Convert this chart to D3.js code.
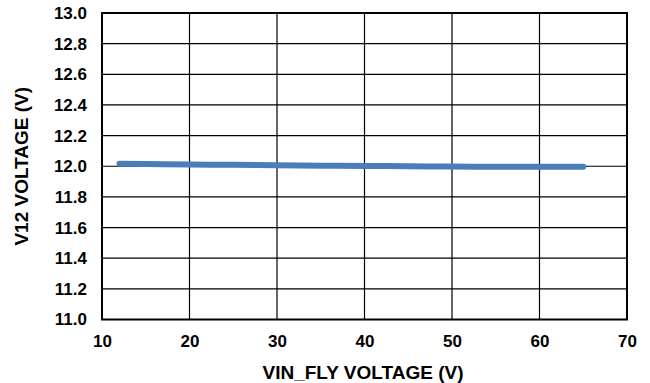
<!DOCTYPE html>
<html><head><meta charset="utf-8">
<script src="https://cdn.jsdelivr.net/npm/d3@7"></script>
<style>body{margin:0;background:#fff;}svg{display:block;}</style>
</head><body>
<svg id="c" width="650" height="383"></svg>
<script>
const vin = [12, 15, 20, 25, 30, 35, 40, 45, 50, 55, 60, 65];
const v12 = [12.016, 12.014, 12.011, 12.009, 12.007, 12.004, 12.002, 12.0, 11.998, 11.997, 11.997, 11.997];
const xTicks = [10, 20, 30, 40, 50, 60, 70];
const yTicks = [11.0, 11.2, 11.4, 11.6, 11.8, 12.0, 12.2, 12.4, 12.6, 12.8, 13.0];

const svg = d3.select("#c");
const L = 102, R = 627, T = 13, B = 319.5;
const x = d3.scaleLinear().domain([10, 70]).range([L, R]);
const y = d3.scaleLinear().domain([11, 13]).range([B, T]);
const font = "Arial, 'Liberation Sans', sans-serif";

const g = svg.append("g");
g.selectAll(".gx").data(xTicks.slice(1, -1)).join("line")
  .attr("x1", d => x(d)).attr("x2", d => x(d)).attr("y1", T).attr("y2", B)
  .attr("stroke", "#000").attr("stroke-width", 1.2);
g.selectAll(".gy").data(yTicks.slice(1, -1)).join("line")
  .attr("y1", d => y(d)).attr("y2", d => y(d)).attr("x1", L).attr("x2", R)
  .attr("stroke", "#000").attr("stroke-width", 1.2);
g.append("rect").attr("x", L).attr("y", T).attr("width", R - L).attr("height", B - T)
  .attr("fill", "none").attr("stroke", "#000").attr("stroke-width", 2);

const xa = svg.append("g").attr("transform", `translate(0,${B})`)
  .call(d3.axisBottom(x).tickValues(xTicks).tickSize(0).tickPadding(15).tickFormat(d3.format("d")));
xa.select(".domain").remove();
xa.selectAll("text").attr("font-family", font).attr("font-size", 17).attr("font-weight", "bold").attr("fill", "#000");

const ya = svg.append("g").attr("transform", `translate(${L},0)`)
  .call(d3.axisLeft(y).tickValues(yTicks).tickSize(0).tickPadding(15).tickFormat(d3.format(".1f")));
ya.select(".domain").remove();
ya.selectAll("text").attr("font-family", font).attr("font-size", 17).attr("font-weight", "bold").attr("fill", "#000");

svg.append("path").datum(vin.map((d, i) => [d, v12[i]]))
  .attr("d", d3.line().x(d => x(d[0])).y(d => y(d[1])).curve(d3.curveMonotoneX))
  .attr("fill", "none").attr("stroke", "#4a7ebb").attr("stroke-width", 6).attr("stroke-linecap", "round");

svg.append("text").attr("x", 363).attr("y", 379).attr("text-anchor", "middle")
  .attr("font-family", font).attr("font-size", 19).attr("font-weight", "bold").text("VIN_FLY VOLTAGE (V)");
svg.append("text").attr("transform", `translate(28,${(T + B) / 2}) rotate(-90)`).attr("text-anchor", "middle")
  .attr("font-family", font).attr("font-size", 19).attr("font-weight", "bold").text("V12 VOLTAGE (V)");
</script>
</body></html>
